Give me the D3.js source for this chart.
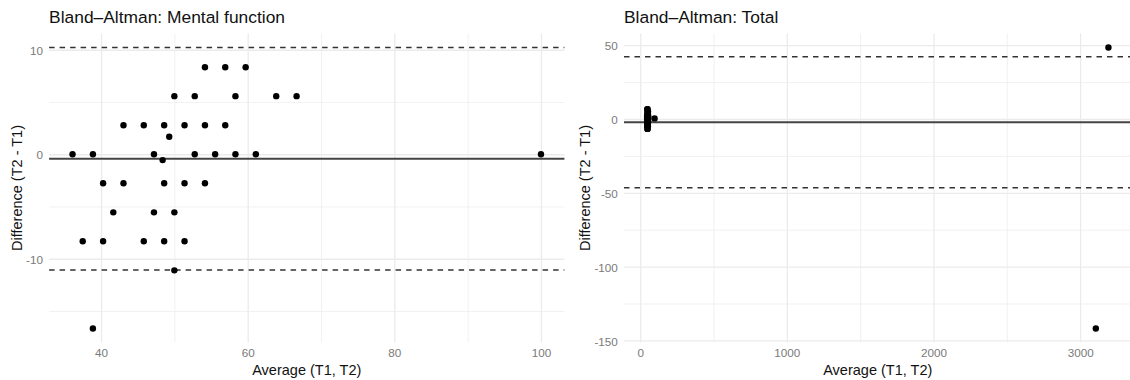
<!DOCTYPE html>
<html lang="en">
<head>
<meta charset="utf-8">
<title>Bland-Altman plots</title>
<script src="https://cdn.jsdelivr.net/npm/d3@7"></script>
<style>
  body { margin: 0; background: #fff; }
  svg { display: block; font-family: "Liberation Sans", Arial, Helvetica, sans-serif; }
</style>
</head>
<body>
<script>
// Mental function: average (T1,T2) and difference (T2 - T1) per subject
const mentalAvg = [54.17, 56.94, 59.72,
  50.0, 52.78, 58.33, 63.89, 66.67,
  43.06, 45.83, 48.61, 51.39, 54.17, 56.94,
  49.3,
  36.11, 38.89, 47.22, 52.78, 55.56, 58.33, 61.11, 100,
  48.4,
  40.28, 43.06, 48.61, 51.39, 54.17,
  41.67, 47.22, 50.0,
  37.5, 40.28, 45.83, 48.61, 51.39,
  50.0,
  38.89];
const mentalDiff = [8.33, 8.33, 8.33,
  5.56, 5.56, 5.56, 5.56, 5.56,
  2.78, 2.78, 2.78, 2.78, 2.78, 2.78,
  1.67,
  0, 0, 0, 0, 0, 0, 0, 0,
  -0.56,
  -2.78, -2.78, -2.78, -2.78, -2.78,
  -5.56, -5.56, -5.56,
  -8.33, -8.33, -8.33, -8.33, -8.33,
  -11.11,
  -16.67];
const mentalMean = -0.43, mentalUpper = 10.21, mentalLower = -11.07;

// Total score
const totalAvg = [47.5, 49.2, 50.8, 52.5, 48.3, 51.7, 53.3, 46.7, 50.0, 54.2,
  49.2, 51.7, 47.5, 52.5, 50.0, 48.3, 53.3, 51.7, 50.8, 49.2, 55.0, 46.7, 50.0, 52.5,
  98, 3193, 3107];
const totalDiff = [6.7, 5.0, 6.7, 3.3, 3.3, 1.7, 5.0, 1.7, 0, 0,
  -1.7, -1.7, -3.3, -3.3, -5.0, -5.0, -1.7, 0, 3.3, -6.7, 1.7, 0, -6.7, -5.0,
  0.4, 48.4, -141.9];
const totalMean = -2.2, totalUpper = 42.2, totalLower = -46.6;

const mentalXTicks = [40, 60, 80, 100], mentalXMinor = [50, 70, 90];
const mentalYTicks = [-10, 0, 10], mentalYMinor = [-15, -5, 5];
const totalXTicks = [0, 1000, 2000, 3000], totalXMinor = [500, 1500, 2500];
const totalYTicks = [-150, -100, -50, 0, 50], totalYMinor = [-125, -75, -25, 25];

const width = 1130, height = 380;
const plotTop = 33.5, plotBottom = 342.5;

const svg = d3.select("body").append("svg")
  .attr("width", width).attr("height", height);

// ggplot-style 5% expansion
function expand(ext) {
  const r = ext[1] - ext[0];
  return [ext[0] - r * 0.05, ext[1] + r * 0.05];
}

function drawPanel(p) {
  const x = d3.scaleLinear().domain(expand(d3.extent(p.avg))).range([p.left, p.right]);
  const y = d3.scaleLinear()
    .domain(expand(d3.extent(p.diff.concat([p.upper, p.lower]))))
    .range([plotBottom, plotTop]);
  const g = svg.append("g");

  // grid, minor first
  const gridV = (vals, w) => g.append("g")
    .attr("transform", `translate(0,${plotBottom})`)
    .call(d3.axisBottom(x).tickValues(vals).tickSize(-(plotBottom - plotTop)).tickFormat(""))
    .call(s => s.select(".domain").remove())
    .call(s => s.selectAll("line").attr("stroke", "#EBEBEB").attr("stroke-width", w));
  const gridH = (vals, w) => g.append("g")
    .attr("transform", `translate(${p.left},0)`)
    .call(d3.axisLeft(y).tickValues(vals).tickSize(-(p.right - p.left)).tickFormat(""))
    .call(s => s.select(".domain").remove())
    .call(s => s.selectAll("line").attr("stroke", "#EBEBEB").attr("stroke-width", w));
  gridV(p.xMinor, 0.7); gridH(p.yMinor, 0.7);
  gridV(p.xTicks, 1.3); gridH(p.yTicks, 1.3);

  // tick labels
  const xAx = g.append("g")
    .attr("transform", `translate(0,${plotBottom})`)
    .call(d3.axisBottom(x).tickValues(p.xTicks).tickSize(0).tickPadding(6.3).tickFormat(d => String(d)));
  const yAx = g.append("g")
    .attr("transform", `translate(${p.left},0)`)
    .call(d3.axisLeft(y).tickValues(p.yTicks).tickSize(0).tickPadding(6.2).tickFormat(d => String(d)));
  [xAx, yAx].forEach(a => {
    a.select(".domain").remove();
    a.selectAll("text").attr("fill", "#7a7a7a").attr("font-size", "11.7px")
      .attr("font-family", "Liberation Sans, Arial, sans-serif");
  });
  yAx.selectAll("text").attr("dy", "0.4em");

  // mean and limits of agreement
  const [xa, xb] = x.range();
  g.append("line").attr("x1", xa).attr("x2", xb)
    .attr("y1", y(p.mean)).attr("y2", y(p.mean))
    .attr("stroke", "#444").attr("stroke-width", 1.8);
  [p.upper, p.lower].forEach(v => {
    g.append("line").attr("x1", xa).attr("x2", xb)
      .attr("y1", y(v)).attr("y2", y(v))
      .attr("stroke", "#333").attr("stroke-width", 1.4)
      .attr("stroke-dasharray", "5.5,5");
  });

  // points
  g.selectAll("circle.pt").data(p.avg.map((a, i) => [a, p.diff[i]]))
    .enter().append("circle").attr("class", "pt")
    .attr("cx", d => x(d[0])).attr("cy", d => y(d[1]))
    .attr("r", 3.2).attr("fill", "#000");

  // titles
  g.append("text").attr("x", p.left).attr("y", 23)
    .attr("font-size", "17.4px").attr("fill", "#111").text(p.title);
  g.append("text").attr("x", (p.left + p.right) / 2).attr("y", 375)
    .attr("text-anchor", "middle").attr("font-size", "14.5px").attr("fill", "#111")
    .text("Average (T1, T2)");
  const labLeft = d3.min(yAx.selectAll("text").nodes(), n => n.getBBox().x) + p.left;
  const tx = labLeft - 4.3, ty = (plotTop + plotBottom) / 2;
  g.append("text").attr("transform", `translate(${tx},${ty}) rotate(-90)`)
    .attr("text-anchor", "middle").attr("font-size", "14.5px").attr("fill", "#111")
    .text("Difference (T2 - T1)");
}

drawPanel({
  title: "Bland\u2013Altman: Mental function",
  avg: mentalAvg, diff: mentalDiff,
  mean: mentalMean, upper: mentalUpper, lower: mentalLower,
  xTicks: mentalXTicks, xMinor: mentalXMinor, yTicks: mentalYTicks, yMinor: mentalYMinor,
  left: 49.1, right: 564.4
});
drawPanel({
  title: "Bland\u2013Altman: Total",
  avg: totalAvg, diff: totalDiff,
  mean: totalMean, upper: totalUpper, lower: totalLower,
  xTicks: totalXTicks, xMinor: totalXMinor, yTicks: totalYTicks, yMinor: totalYMinor,
  left: 624, right: 1131.5
});
</script>
</body>
</html>
